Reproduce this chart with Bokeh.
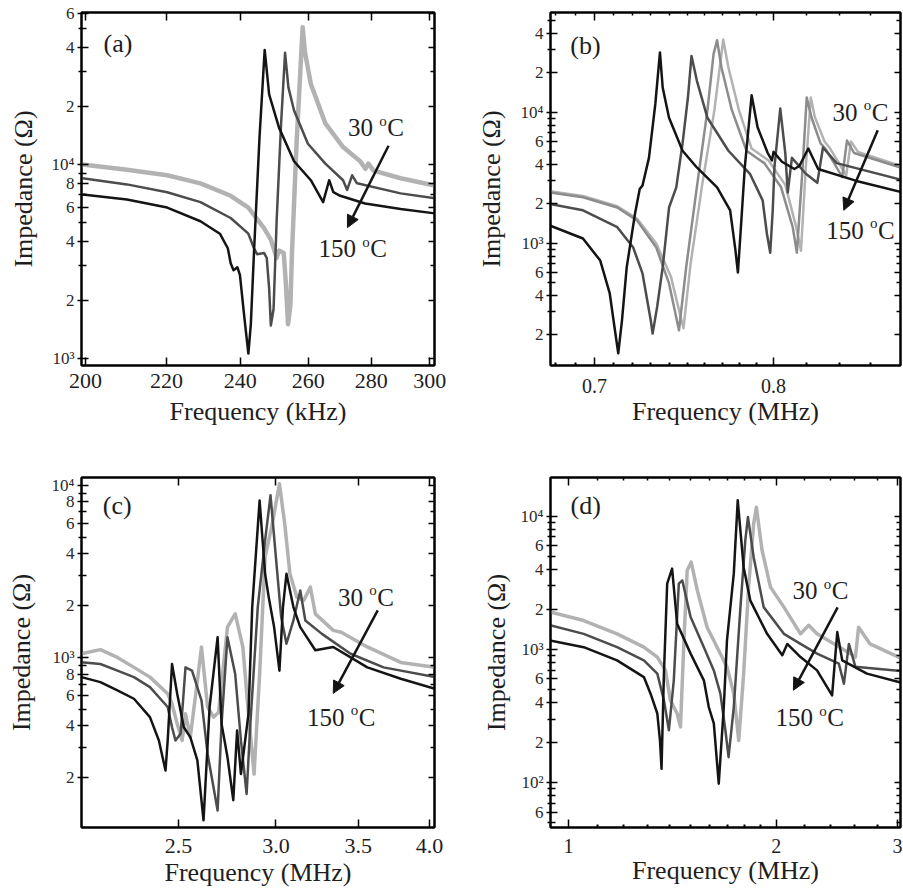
import math
from bokeh.plotting import figure
from bokeh.models import (Range1d, FixedTicker, CustomJSTickFormatter, LogAxis,
                          Label, Arrow, NormalHead)
from bokeh.layouts import row, column
from bokeh.embed import file_html
from bokeh.resources import INLINE

FONT = "Liberation Serif"
TXT = "#1e1e1e"

# ---------------- panel (a) : kHz ----------------
A_F_LT = [199.3, 210, 220.2, 229, 237.3, 242.3, 246.8, 248.8, 250.5, 251.2, 252.6, 253.2, 253.9, 254.6,
          255.1, 256.5, 258.3, 259.0, 260.8, 265.3, 270.9, 276.4, 278.1, 279.1, 280.8, 289.9, 301.8]
A_Z_LT = [10.0e3, 9.4e3, 8.8e3, 8.0e3, 6.9e3, 6.0e3, 4.7e3, 4.1e3, 3.3e3, 3.6e3, 3.5e3, 2.5e3, 1.5e3, 1.9e3,
          3.6e3, 13.4e3, 51e3, 38e3, 26e3, 16.3e3, 12.3e3, 10.4e3, 9.5e3, 10.1e3, 9.3e3, 8.5e3, 7.8e3]
A_F_DK = [199.3, 210, 220.2, 229, 237.3, 242.3, 243.9, 244.8, 246.8, 247.6, 248.3, 248.8, 249.6, 250.5,
          251.8, 253.0, 254.0, 255.7, 259.9, 265.3, 270.9, 272.2, 273.8, 275.4, 289.9, 301.8]
A_Z_DK = [8.5e3, 7.9e3, 7.2e3, 6.4e3, 5.3e3, 4.4e3, 3.7e3, 3.45e3, 3.5e3, 3.3e3, 2.3e3, 1.48e3, 1.8e3, 5.1e3,
          16e3, 37.7e3, 25e3, 19e3, 12.8e3, 10.1e3, 8.3e3, 7.4e3, 8.8e3, 8.0e3, 7.1e3, 6.7e3]
A_F_BK = [199.3, 210, 220.2, 229, 234.3, 236.5, 237.3, 238.1, 239.2, 239.9, 241.2, 242.3, 243.0, 243.9,
          245.5, 247.0, 248.3, 251.2, 255.7, 260.8, 264.6, 266.5, 267.8, 270.0, 278.0, 289.9, 301.8]
A_Z_BK = [7.0e3, 6.6e3, 6.0e3, 5.1e3, 4.4e3, 3.7e3, 3.1e3, 2.85e3, 2.95e3, 2.7e3, 1.6e3, 1.06e3, 1.5e3, 3.5e3,
          13.8e3, 39e3, 23e3, 15.5e3, 10.4e3, 8.3e3, 6.4e3, 8.3e3, 7.2e3, 6.9e3, 6.3e3, 5.9e3, 5.6e3]
A_XTICKS = [200, 220, 240, 260, 280, 300]
A_YLAB = [1e3, 2e3, 4e3, 6e3, 8e3, 1e4, 2e4, 4e4, 6e4]
A_YMINOR = [3e3, 5e3, 7e3, 9e3, 3e4, 5e4]

# ---------------- panel (b) : MHz ----------------
B_F_LT = [0.677, 0.694, 0.712, 0.7225, 0.733, 0.741, 0.748, 0.752, 0.7585, 0.7655, 0.7705, 0.7735, 0.7795,
          0.787, 0.797, 0.807, 0.8135, 0.8165, 0.8195, 0.8225, 0.825, 0.831, 0.834, 0.841, 0.8445, 0.8475,
          0.852, 0.8825]
B_Z_LT = [2.5e3, 2.3e3, 1.92e3, 1.55e3, 1.0e3, 560, 225, 700, 2.8e3, 10.5e3, 36e3, 22e3, 10.5e3,
          5.3e3, 4.3e3, 2.8e3, 1.35e3, 880, 3.9e3, 13e3, 9.2e3, 6.0e3, 5.4e3, 3.9e3, 3.3e3, 6.0e3,
          5.0e3, 3.8e3]
B_F_MD = [0.677, 0.694, 0.712, 0.7225, 0.733, 0.740, 0.7455, 0.7495, 0.7555, 0.7615, 0.765, 0.767, 0.7695,
          0.7755, 0.784, 0.7945, 0.8045, 0.8115, 0.814, 0.8175, 0.820, 0.823, 0.8285, 0.8315, 0.8385, 0.842,
          0.845, 0.8495, 0.8825]
B_Z_MD = [2.45e3, 2.25e3, 1.88e3, 1.5e3, 930, 495, 217, 656, 2.68e3, 10.4e3, 28e3, 35.5e3, 22e3,
          10.4e3, 5.1e3, 4.1e3, 2.68e3, 1.33e3, 850, 3.8e3, 13e3, 9.1e3, 5.8e3, 5.3e3, 3.8e3, 3.2e3,
          6.1e3, 4.9e3, 3.7e3]
B_F_DK = [0.677, 0.694, 0.712, 0.7205, 0.7255, 0.730, 0.731, 0.7335, 0.7365, 0.740, 0.744, 0.7475, 0.7505,
          0.7525, 0.7555, 0.7615, 0.7735, 0.786, 0.7935, 0.796, 0.798, 0.7995, 0.8005, 0.804, 0.807, 0.8085,
          0.811, 0.8195, 0.8265, 0.830, 0.8385, 0.8825]
B_Z_DK = [2.0e3, 1.79e3, 1.33e3, 930, 590, 258, 205, 330, 656, 1.88e3, 2.68e3, 5.8e3, 13e3,
          27e3, 17.5e3, 9.1e3, 5.1e3, 3.4e3, 2.13e3, 1.19e3, 850, 1.8e3, 3.8e3, 10.7e3, 4.9e3, 2.45e3,
          4.5e3, 3.4e3, 2.9e3, 5.4e3, 4.1e3, 3.0e3]
B_F_BK = [0.677, 0.694, 0.703, 0.708, 0.7105, 0.7125, 0.7145, 0.717, 0.7215, 0.724, 0.7255, 0.729, 0.7325,
          0.735, 0.7365, 0.740, 0.7475, 0.7555, 0.767, 0.7745, 0.7775, 0.779, 0.781, 0.783, 0.787, 0.7905,
          0.7965, 0.799, 0.800, 0.805, 0.8125, 0.8155, 0.821, 0.827, 0.851, 0.881]
B_Z_BK = [1.37e3, 1.09e3, 740, 415, 230, 145, 260, 656, 1.7e3, 2.6e3, 2.77e3, 4.5e3, 11.7e3,
          28.7e3, 15.5e3, 9.1e3, 5.1e3, 3.8e3, 2.68e3, 1.79e3, 900, 600, 1.5e3, 3.8e3, 13.5e3, 7.7e3,
          4.9e3, 4.3e3, 5.0e3, 4.2e3, 3.7e3, 3.9e3, 5.3e3, 3.7e3, 3.0e3, 2.45e3]
B_XTICKS = [0.7, 0.8]
B_XMINOR = [0.68, 0.69, 0.71, 0.72, 0.73, 0.74, 0.75, 0.76, 0.77, 0.78, 0.79, 0.82, 0.84, 0.86]
B_YLAB = [2e2, 4e2, 6e2, 1e3, 2e3, 4e3, 6e3, 1e4, 2e4, 4e4]
B_YMINOR = [3e2, 5e2, 7e2, 8e2, 9e2, 3e3, 5e3, 7e3, 8e3, 9e3, 3e4, 5e4]

# ---------------- panel (c) : MHz ----------------
C_F_LT = [2.085, 2.16, 2.23, 2.30, 2.37, 2.45, 2.47, 2.494, 2.517, 2.533, 2.556, 2.59, 2.61, 2.64, 2.67,
          2.695, 2.74, 2.78, 2.82, 2.85, 2.88, 2.91, 2.94, 2.98, 3.02, 3.05, 3.08, 3.12, 3.16, 3.20, 3.23,
          3.34, 3.39, 3.56, 3.79, 4.04]
C_Z_LT = [1.05e3, 1.11e3, 1.0e3, 875, 768, 615, 538, 411, 329, 470, 344, 733, 1.15e3, 515, 450,
          480, 1.5e3, 1.79e3, 1.15e3, 470, 210, 800, 3.83e3, 5.98e3, 10.2e3, 5.98e3, 3.06e3, 2.24e3,
          2.14e3, 2.56e3, 1.79e3, 1.435e3, 1.40e3, 1.15e3, 935, 875]
C_F_DK = [2.085, 2.16, 2.23, 2.30, 2.37, 2.45, 2.47, 2.486, 2.51, 2.533, 2.564, 2.61, 2.64, 2.69, 2.71,
          2.74, 2.78, 2.81, 2.84, 2.86, 2.90, 2.94, 2.97, 3.00, 3.03, 3.06, 3.10, 3.14, 3.17, 3.27, 3.45,
          3.67, 4.04]
C_Z_DK = [937, 915, 837, 768, 672, 515, 393, 329, 360, 875, 837, 562, 275, 129, 411,
          1.31e3, 800, 329, 161, 411, 1.96e3, 4.79e3, 8.75e3, 3.83e3, 1.71e3, 1.20e3, 1.64e3, 2.45e3,
          1.64e3, 1.37e3, 1.05e3, 875, 768]
C_F_BK = [2.085, 2.16, 2.23, 2.30, 2.37, 2.41, 2.44, 2.45, 2.47, 2.494, 2.525, 2.556, 2.59, 2.62, 2.65,
          2.69, 2.71, 2.74, 2.77, 2.79, 2.81, 2.85, 2.87, 2.91, 2.94, 2.96, 2.99, 3.02, 3.04, 3.06, 3.10,
          3.14, 3.23, 3.34, 3.56, 3.79, 4.04]
C_Z_BK = [768, 718, 643, 575, 450, 329, 220, 329, 915, 615, 393, 344, 252, 113, 515,
          1.31e3, 411, 264, 148, 376, 210, 470, 1.96e3, 8.16e3, 3.06e3, 2.24e3, 1.50e3, 837, 1.96e3,
          3.06e3, 1.96e3, 1.50e3, 1.10e3, 1.15e3, 875, 751, 658]
C_XTICKS = [2.5, 3.0, 3.5, 4.0]
C_YLAB = [2e2, 4e2, 6e2, 8e2, 1e3, 2e3, 4e3, 6e3, 8e3, 1e4]
C_YMINOR = [3e2, 5e2, 7e2, 9e2, 3e3, 5e3, 7e3, 9e3]

# ---------------- panel (d) : MHz ----------------
D_F_LT = [0.94, 1.052, 1.176, 1.286, 1.345, 1.382, 1.405, 1.437, 1.453, 1.470, 1.486, 1.506, 1.537,
          1.588, 1.642, 1.697, 1.736, 1.765, 1.794, 1.824, 1.855, 1.872, 1.908, 1.962, 2.052, 2.169,
          2.229, 2.292, 2.563, 2.605, 2.633, 2.735, 3.03]
D_Z_LT = [1.91e3, 1.65e3, 1.31e3, 1.04e3, 876, 696, 414, 330, 262, 1.17e3, 3.93e3, 4.53e3, 2.78e3,
          1.47e3, 1.04e3, 740, 465, 207, 658, 2.94e3, 8.8e3, 11.7e3, 5.55e3, 2.94e3, 2.08e3, 1.31e3,
          1.52e3, 1.31e3, 930, 876, 1.47e3, 1.10e3, 860]
D_F_DK = [0.94, 1.052, 1.176, 1.286, 1.345, 1.375, 1.398, 1.421, 1.445, 1.462, 1.503, 1.571, 1.624,
          1.660, 1.688, 1.706, 1.736, 1.775, 1.804, 1.820, 1.855, 1.918, 2.052, 2.169, 2.292, 2.465,
          2.507, 2.549, 2.605, 3.03]
D_Z_DK = [1.52e3, 1.31e3, 1.04e3, 828, 658, 414, 247, 586, 3.12e3, 3.30e3, 1.75e3, 1.04e3, 696,
          465, 247, 155, 369, 2.08e3, 6.6e3, 9.9e3, 4.94e3, 2.08e3, 1.31e3, 1.10e3, 930, 781,
          553, 1.10e3, 740, 690]
D_F_BK = [0.94, 1.052, 1.176, 1.286, 1.315, 1.345, 1.357, 1.364, 1.375, 1.390, 1.413, 1.437, 1.503,
          1.571, 1.597, 1.624, 1.651, 1.679, 1.697, 1.736, 1.759, 1.794, 1.834, 1.940, 2.041, 2.075,
          2.169, 2.292, 2.410, 2.452, 2.493, 2.707, 3.03]
D_Z_BK = [1.17e3, 1.04e3, 828, 620, 465, 330, 207, 127, 658, 3.12e3, 4.05e3, 1.56e3, 930,
          586, 369, 278, 98, 369, 1.17e3, 3.71e3, 13.2e3, 4.15e3, 2.34e3, 1.31e3, 905, 1.10e3,
          876, 696, 452, 1.35e3, 828, 658, 565]
D_XTICKS = [1, 2, 3]
D_XMINOR = [1.1, 1.2, 1.3, 1.4, 1.5, 1.6, 1.7, 1.8, 1.9, 2.2, 2.4, 2.6, 2.8]
D_YLAB = [6e1, 1e2, 2e2, 4e2, 6e2, 1e3, 2e3, 4e3, 6e3, 1e4]
D_YMINOR = [5e1, 7e1, 8e1, 9e1, 3e2, 5e2, 7e2, 8e2, 9e2, 3e3, 5e3, 7e3, 8e3, 9e3]

TEMP_HI = "30"
TEMP_LO = "150"
Y_TITLE = "Impedance (\u03a9)"

C_LIGHT = "#b2b2b2"
C_MID = "#8c8c8c"
C_DARK = "#4c4c4c"
C_BLACK = "#141414"

YFMT = """
const e = Math.floor(Math.log10(tick) + 1e-9);
const m = Math.round(tick / Math.pow(10, e));
const sup = ['\u2070', '\u00b9', '\u00b2', '\u00b3', '\u2074', '\u2075'];
if (m === 1) { return '10' + sup[e]; }
return String(m);
"""


def lbl(p, x, y, text, size, xo=0, yo=0, align="left", base="middle", color=TXT):
    p.add_layout(Label(x=x, y=y, text=text, x_offset=xo, y_offset=yo, text_align=align,
                       text_baseline=base, text_font=FONT,
                       text_font_size=f"{size}px", text_color=color))


def panel(xr, yr, w, h, bl, br, bt, bb, xt, xminor, xdec, xfs, xstand, xtitle, xtstand,
          ylab, yminor, ytstand):
    p = figure(width=w, height=h, x_axis_type="log", y_axis_type="log",
               x_range=Range1d(*xr), y_range=Range1d(*yr), output_backend="svg",
               toolbar_location=None, min_border_left=bl, min_border_right=br,
               min_border_top=bt, min_border_bottom=bb)
    p.xgrid.visible = False
    p.ygrid.visible = False
    p.outline_line_color = "black"
    p.outline_line_width = 2
    p.background_fill_color = "white"
    p.border_fill_color = "white"

    xtk = FixedTicker(ticks=xt, minor_ticks=xminor)
    ytk = FixedTicker(ticks=ylab, minor_ticks=yminor)
    xa = p.xaxis[0]
    xa.ticker = xtk
    xa.formatter = CustomJSTickFormatter(code=f"return tick.toFixed({xdec});")
    xa.major_label_text_font = FONT
    xa.major_label_text_font_size = f"{xfs}px"
    xa.major_label_text_color = TXT
    xa.major_label_standoff = xstand
    xa.major_tick_in = 8
    xa.major_tick_out = 0
    xa.minor_tick_in = 3
    xa.minor_tick_out = 0
    xa.axis_line_width = 2
    xa.major_tick_line_width = 1.5
    xa.minor_tick_line_width = 2
    xa.axis_label = xtitle
    xa.axis_label_text_font = FONT
    xa.axis_label_text_font_size = "26px"
    xa.axis_label_text_font_style = "normal"
    xa.axis_label_text_color = TXT
    xa.axis_label_standoff = xtstand

    ya = p.yaxis[0]
    ya.ticker = ytk
    ya.formatter = CustomJSTickFormatter(code=YFMT)
    ya.major_label_text_font = FONT
    ya.major_label_text_font_size = "17px"
    ya.major_label_text_color = "#2a2a2a"
    ya.major_label_standoff = 3
    ya.major_tick_in = 7
    ya.major_tick_out = 4
    ya.minor_tick_in = 5
    ya.minor_tick_out = 3
    ya.axis_line_width = 2
    ya.major_tick_line_width = 1.5
    ya.minor_tick_line_width = 1.5
    ya.axis_label = Y_TITLE
    ya.axis_label_text_font = FONT
    ya.axis_label_text_font_size = "26px"
    ya.axis_label_text_font_style = "normal"
    ya.axis_label_text_color = TXT
    ya.axis_label_standoff = ytstand

    for loc, tk in (("above", xtk), ("right", ytk)):
        ax = LogAxis(ticker=tk, formatter=CustomJSTickFormatter(code="return '';"),
                     major_label_text_font_size="0px", major_label_standoff=0,
                     axis_label_standoff=0,
                     major_tick_in=8 if loc == "above" else 6, major_tick_out=0,
                     minor_tick_in=3 if loc == "above" else 4, minor_tick_out=0,
                     axis_line_width=2, major_tick_line_width=1.5, minor_tick_line_width=1.5)
        p.add_layout(ax, loc)
    return p


def curves(p, series):
    for f, z, col, lw in series:
        p.line(f, z, line_color=col, line_width=lw, line_join="round")


def temps(p, hi_xy, lo_xy, arrow, tag, tag_xy):
    for (x, y), t in ((hi_xy, TEMP_HI), (lo_xy, TEMP_LO)):
        size = 25
        w = len(t) * 0.5 * size + 0.25 * size
        lbl(p, x, y, t, size)
        lbl(p, x, y, "o", 15, xo=w, yo=7)
        lbl(p, x, y, "C", size, xo=w + 8)
    (xs, ys), (xe, ye) = arrow
    p.add_layout(Arrow(end=NormalHead(size=12, fill_color=C_BLACK, line_color=C_BLACK),
                       x_start=xs, y_start=ys, x_end=xe, y_end=ye,
                       line_color=C_BLACK, line_width=2.5))
    lbl(p, tag_xy[0], tag_xy[1], tag, 26)


# Frames are shared per row / column by the layout:
# row 1: top 12, bottom 365; row 2: top 477, bottom 827
# col 1: left 81, right 434; col 2: left 550, right 900

# ---- (a)
pa = panel((199.06, 301.7), (920, 60800), 460, 450, 81, 26, 12, 85,
           A_XTICKS, [], 0, 22, 8, "Frequency (kHz)", 6, A_YLAB, A_YMINOR, 11)
curves(pa, [(A_F_LT, A_Z_LT, C_LIGHT, 4.5), (A_F_DK, A_Z_DK, C_DARK, 2.5), (A_F_BK, A_Z_BK, C_BLACK, 2.5)])
temps(pa, (272.5, 15.5e3), (263.2, 3.69e3), ((285.8, 12.5e3), (272.3, 4.73e3)), "(a)", (204.3, 42e3))

# ---- (b)
pb = panel((0.6774, 0.8794), (117, 57900), 442, 450, 90, 2, 12, 85,
           B_XTICKS, B_XMINOR, 1, 20, 13, "Frequency (MHz)", 1, B_YLAB, B_YMINOR, 12)
curves(pb, [(B_F_LT, B_Z_LT, C_LIGHT, 2.5), (B_F_MD, B_Z_MD, C_MID, 2.5), (B_F_DK, B_Z_DK, C_DARK, 2.5),
            (B_F_BK, B_Z_BK, C_BLACK, 2.5)])
temps(pb, (0.836, 10e3), (0.832, 1.26e3), ((0.8646, 7.3e3), (0.843, 1.79e3)), "(b)", (0.6875, 32.4e3))

# ---- (c)
pc = panel((2.085, 4.037), (102.7, 11100), 460, 442, 81, 26, 27, 65,
           C_XTICKS, [], 1, 22, 11, "Frequency (MHz)", 2, C_YLAB, C_YMINOR, 13)
curves(pc, [(C_F_LT, C_Z_LT, C_LIGHT, 3.5), (C_F_DK, C_Z_DK, C_DARK, 2.5), (C_F_BK, C_Z_BK, C_BLACK, 2.5)])
temps(pc, (3.37, 2.23e3), (3.18, 448), ((3.63, 1.875e3), (3.34, 618)), "(c)", (2.17, 7.63e3))

# ---- (d)
pd = panel((0.9417, 3.028), (45.9, 19600), 442, 442, 90, 2, 27, 65,
           D_XTICKS, D_XMINOR, 0, 20, 11, "Frequency (MHz)", 0, D_YLAB, D_YMINOR, 7)
curves(pd, [(D_F_LT, D_Z_LT, C_LIGHT, 3.5), (D_F_DK, D_Z_DK, C_DARK, 2.5), (D_F_BK, D_Z_BK, C_BLACK, 2.5)])
temps(pd, (2.112, 2.77e3), (1.995, 307), ((2.455, 2.07e3), (2.118, 494)), "(d)", (1.0067, 12.1e3))

layout = column(row(pa, pb), row(pc, pd))
open("out.html", "w").write(file_html(layout, INLINE))
